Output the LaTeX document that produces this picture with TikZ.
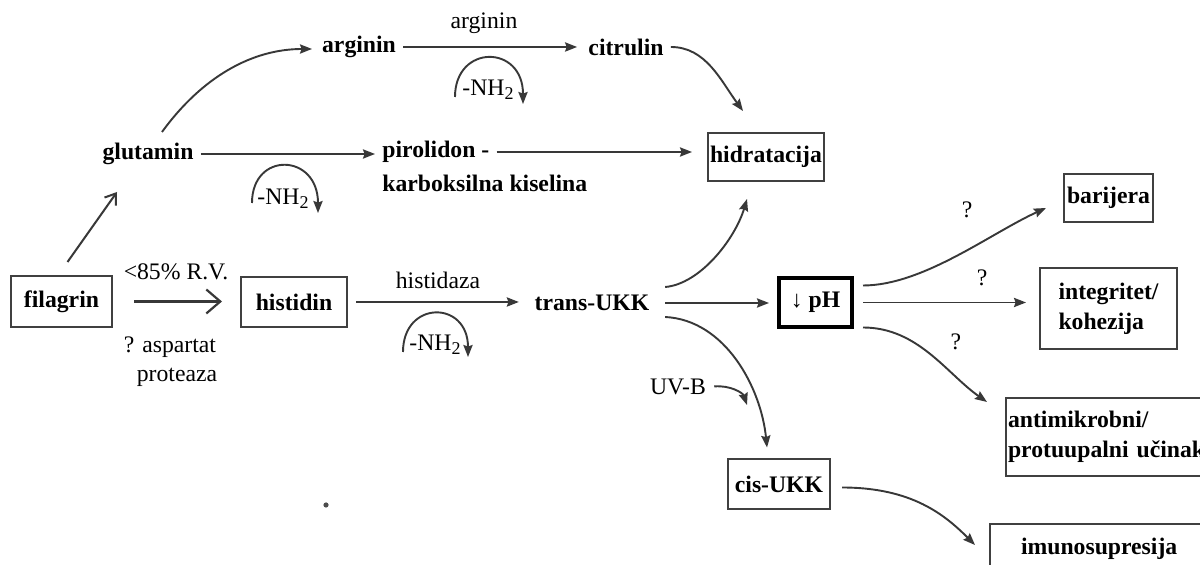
\documentclass[tikz,border=0pt]{standalone}
\usepackage{fontspec}
\setmainfont{Liberation Serif}
\usetikzlibrary{arrows.meta,calc}
\newcommand{\fsz}{\fontsize{11.85}{15}\selectfont}
\newcommand{\nhtwo}{-NH\raisebox{-0.35ex}{\fontsize{9}{9}\selectfont 2}}
\begin{document}
\begin{tikzpicture}[x=0.5pt,y=-0.5pt,
  conn/.style={draw=black!78, line width=0.95pt, -{Stealth[length=6pt,width=4.6pt,inset=0.8pt]}},
  openarr/.style={draw=black!78, line width=1.1pt, -{Straight Barb[length=7pt,width=12pt]}},
  uparr/.style={draw=black!78, line width=1pt, -{Straight Barb[length=5pt,width=7pt]}},
  box/.style={draw=black!75, line width=1pt, font=\fsz\bfseries, inner sep=0pt},
  lbl/.style={font=\fsz\bfseries, inner xsep=3.5pt, inner ysep=2pt},
  txt/.style={font=\fsz, inner sep=1pt}]
\useasboundingbox (0,0) rectangle (1200,565);
\clip (0,0) rectangle (1200,565);
\fill[white] (0,0) rectangle (1200,565);

% main nodes
\node[box, minimum width=50.5pt, minimum height=25.5pt] (fil) at (61.5,301.5) {filagrin};
\node[box, minimum width=53pt, minimum height=25pt] (his) at (294,302) {histidin};
\node[lbl] (glu) at (148,154) {glutamin};
\node[lbl] (arg) at (359,47) {arginin};
\node[lbl] (cit) at (626,47) {citrulin};
\node[lbl, anchor=west] (pir1) at (375,152) {pirolidon -};
\node[lbl, anchor=west] (pir2) at (375,183) {karboksilna kiselina};
\node[box, minimum width=58pt, minimum height=24pt] (hyd) at (766,157) {hidratacija};
\node[lbl, inner xsep=7.75pt] (tra) at (592,303) {trans-UKK};
\node[box, line width=2pt, draw=black, minimum width=36.5pt, minimum height=24.5pt] (ph) at (815.5,302.5) {{\mdseries ↓} pH};
\node[box, minimum width=44.5pt, minimum height=24pt] (bar) at (1108.5,198) {barijera};
\node[box, align=left, minimum width=68.5pt, minimum height=40.5pt] (int) at (1108.5,308.5) {integritet/\\kohezija};
\node[box, anchor=north west, align=left, text width=124pt, inner xsep=1pt, minimum height=39pt] (ant) at (1005,397) {antimikrobni/\\protuupalni učinak};
\node[box, minimum width=51pt, minimum height=25pt] (cis) at (779,484.5) {cis-UKK};
\node[box, anchor=north west, text width=120pt, align=left, inner xsep=15.5pt, inner ysep=7pt] (imu) at (989,523) {imunosupresija};

% labels
\node[txt] (l85) at (176,272) {<85\% R.V.};
\node[txt] (asp) at (170,347) {? aspartat};
\node[txt] (pro) at (177,377) {proteaza};
\node[txt] (hz) at (438,280) {histidaza};
\node[txt] (argl) at (484,23) {arginin};
\node[txt] (uvb) at (678,387) {UV-B};
\node[txt] (q1) at (967,210) {?};
\node[txt] (q2) at (982,278) {?};
\node[txt] (q3) at (956,342) {?};
\node[txt] (nh1) at (488,90) {\nhtwo};
\node[txt] (nh2) at (283,199) {\nhtwo};
\node[txt] (nh3) at (435,345) {\nhtwo};
\coordinate (uvtip) at (747,405);

% connectors
\draw[uparr] ([shift={(6,-13)}]fil.north) -- ([shift={(-31,38)}]glu.center);
\draw[openarr, shorten <=10.5pt, shorten >=9pt] (fil.east) -- (fil.east -| his.west);
\draw[conn, shorten <=4pt] (his.east) -- (his.east -| tra.west);
\draw[conn, shorten >=4pt] (tra.east) -- (tra.east -| ph.west);
\draw[conn] ([shift={(0,-16)}]tra.east) .. controls +(35,-3) and +(-12,40) .. ([shift={(-19,17)}]hyd.south);
\draw[conn] ([shift={(0,14)}]tra.east) .. controls +(60,3) and +(-6,-60) .. ([shift={(-12,-11)}]cis.north);
\draw[conn, shorten <=3pt] (uvb.east) .. controls +(22,-2) and +(-4,-12) .. (uvtip);
\draw[conn] ([shift={(9,-17)}]ph.east) .. controls +(60,0) and +(-55,25) .. ([shift={(-17,10)}]bar.west);
\draw[conn, shorten <=4.5pt, shorten >=6.5pt] (ph.east) -- (ph.east -| int.west);
\draw[conn] ([shift={(9,25)}]ph.east) .. controls +(55,0) and +(-40,-28) .. ([shift={(-18,5)}]ant.north west);
\draw[conn] ([shift={(11,3)}]cis.east) .. controls +(70,0) and +(-30,-30) .. ([shift={(-14,22)}]imu.north west);
\draw[conn] ([shift={(14,-22)}]glu.center) .. controls +(40,-55) and +(-60,0) .. ([shift={(-47,2)}]arg.center);
\draw[conn, shorten >=2pt] (arg.east) -- (arg.east -| cit.west);
\draw[conn] (cit.east) .. controls +(35,0) and +(-22,-30) .. ([shift={(-23,-21)}]hyd.north);
\draw[conn] (glu.east) -- (glu.east -| pir1.west);
\draw[conn, shorten >=7.5pt] (pir1.east) -- (pir1.east -| hyd.west);

% -NH2 arcs
\draw[conn] ([shift={(-33,7)}]nh1.center) .. controls +(0,-53) and +(0,-60) .. ([shift={(35,14)}]nh1.center);
\draw[conn] ([shift={(-31,4)}]nh2.center) .. controls +(0,-52) and +(0,-60) .. ([shift={(35,14)}]nh2.center);
\draw[conn] ([shift={(-32,7)}]nh3.center) .. controls +(0,-52) and +(0,-57) .. ([shift={(33,12)}]nh3.center);

\fill[black!70] (326,505) circle[radius=1.3pt];
\end{tikzpicture}
\end{document}
